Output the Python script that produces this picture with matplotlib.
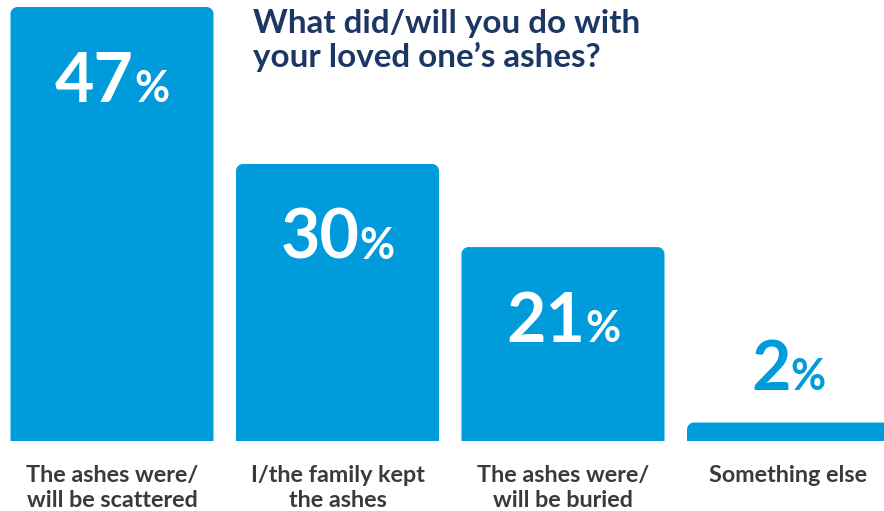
import matplotlib
matplotlib.use("Agg")
import matplotlib.pyplot as plt
from matplotlib.path import Path
from matplotlib.patches import PathPatch
import matplotlib.transforms as mtransforms

# Survey results
categories = [
    ["The ashes were/", "will be scattered"],
    ["I/the family kept", "the ashes"],
    ["The ashes were/", "will be buried"],
    ["Something else"],
]
values = [47, 30, 21, 2]
title_lines = ["What did/will you do with", "your loved one\u2019s ashes?"]

BLUE = "#009BDB"
NAVY = "#1D3765"
GREY = "#3A3A3A"
FONT = "Lato"

W, H, DPI = 884, 511, 100
fig = plt.figure(figsize=(W / DPI, H / DPI), dpi=DPI)
fig.patch.set_facecolor("white")

# axes: baseline at 441 px from top, 47 at 7 px from top
base_px, top_px = 441, 7
ax = fig.add_axes([0, (H - base_px) / H, 1, (base_px - top_px) / H])
pitch = 225.5
c0 = 112.0
ax.set_xlim(-c0 / pitch, (W - c0) / pitch)
ax.set_ylim(0, 47)
ax.axis("off")

bar_w = 203 / pitch
bars = ax.bar(range(len(values)), values, width=bar_w, color="none", edgecolor="none")

# rounded top corners
px_per_x = pitch
px_per_y = (base_px - top_px) / 47
r = 7
rx, ry = r / px_per_x, r / px_per_y
for rect in bars:
    x0, y0 = rect.get_x(), rect.get_y()
    x1, y1 = x0 + rect.get_width(), y0 + rect.get_height()
    k = 0.5523
    verts = [
        (x0, y0), (x0, y1 - ry),
        (x0, y1 - ry + k * ry), (x0 + rx - k * rx, y1), (x0 + rx, y1),
        (x1 - rx, y1),
        (x1 - rx + k * rx, y1), (x1, y1 - ry + k * ry), (x1, y1 - ry),
        (x1, y0), (x0, y0),
    ]
    codes = [Path.MOVETO, Path.LINETO,
             Path.CURVE4, Path.CURVE4, Path.CURVE4,
             Path.LINETO,
             Path.CURVE4, Path.CURVE4, Path.CURVE4,
             Path.LINETO, Path.CLOSEPOLY]
    ax.add_patch(PathPatch(Path(verts, codes), facecolor=BLUE, edgecolor="none"))

# value labels: large number with a smaller percent sign
renderer = fig.canvas.get_renderer()
num_size, pct_size = 49, 31
for i, v in enumerate(values):
    inside = v > 5
    color = "white" if inside else BLUE
    dy = -95 if inside else 33
    t1 = ax.text(i, v, f"{v}", fontsize=num_size, fontweight="bold", family=FONT,
                 color=color, ha="left", va="baseline")
    t2 = ax.text(i, v, "%", fontsize=pct_size, fontweight="bold", family=FONT,
                 color=color, ha="left", va="baseline")
    w1 = t1.get_window_extent(renderer).width
    w2 = t2.get_window_extent(renderer).width
    sep = 0
    total = w1 + sep + w2
    t1.set_transform(mtransforms.offset_copy(ax.transData, fig=fig, x=-total / 2, y=dy, units="dots"))
    t2.set_transform(mtransforms.offset_copy(ax.transData, fig=fig, x=-total / 2 + w1 + sep, y=dy, units="dots"))

# category labels
for i, lines in enumerate(categories):
    for j, line in enumerate(lines):
        tr = mtransforms.offset_copy(ax.transData, fig=fig, x=0, y=-41 - 24.5 * j, units="dots")
        ax.text(i, 0, line, transform=tr, fontsize=16.8, fontweight="bold", family=FONT,
                color=GREY, ha="center", va="baseline", clip_on=False)

# title
for j, line in enumerate(title_lines):
    fig.text(253 / W, (H - 33 - 34 * j) / H, line, fontsize=23.9, fontweight="bold",
             family=FONT, color=NAVY, ha="left", va="baseline")

fig.savefig("out.png", dpi=DPI, facecolor="white")
